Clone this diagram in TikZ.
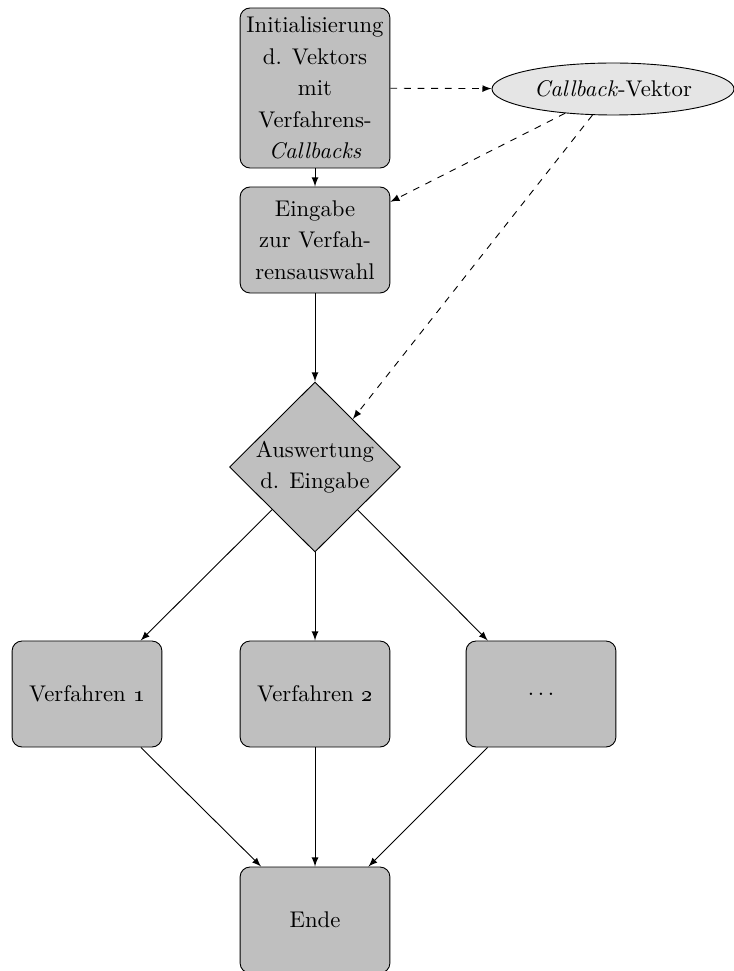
\documentclass[tikz,border=0pt]{standalone}
\usetikzlibrary{shapes.geometric,arrows}
\begin{document}
\begin{tikzpicture}[x=0.4405pt,y=-0.4405pt,
  box/.style={draw,fill=lightgray,rounded corners=4.4pt,minimum width=66pt,inner sep=0pt,align=center,font=\fontsize{10}{13.9}\selectfont},
  dia/.style={draw,fill=lightgray,diamond,aspect=1,minimum width=75.3pt,minimum height=74.9pt,inner sep=0pt,align=center,font=\fontsize{10}{13.4}\selectfont},
  ell/.style={draw,fill=gray!20,ellipse,minimum width=106.6pt,minimum height=22.9pt,inner sep=0pt},
  arr/.style={-latex},
  darr/.style={-latex,dashed}]
\useasboundingbox (0,0) rectangle (734,971);
\node[box,minimum height=70.5pt] (init) at (315,88) {Initialisierung\\d. Vektors\\mit\\Verfahrens-\\\textit{Callbacks}};
\node[ell] (vec) at (613,89) {\textit{Callback}-Vektor};
\node[box,minimum height=46.7pt] (ein) at (315,240) {Eingabe\\zur Verfah-\\rensauswahl};
\node[dia] (aus) at (315,467) {Auswertung\\d. Eingabe};
\node[box,minimum height=46.7pt] (v1) at (87,694) {Verfahren \oldstylenums{1}};
\node[box,minimum height=46.7pt] (v2) at (315,694) {Verfahren \oldstylenums{2}};
\node[box,minimum height=46.7pt] (v3) at (541,694) {$\ldots$};
\node[box,minimum height=46.7pt] (ende) at (315,920) {Ende};
\draw[arr] (init) -- (ein);
\draw[darr] (init) -- (vec);
\draw[darr] (vec) -- (ein);
\draw[darr] (vec) -- (aus);
\draw[arr] (ein) -- (aus);
\draw[arr] (aus) -- (v1);
\draw[arr] (aus) -- (v2);
\draw[arr] (aus) -- (v3);
\draw[arr] (v1) -- (ende);
\draw[arr] (v2) -- (ende);
\draw[arr] (v3) -- (ende);
\end{tikzpicture}
\end{document}
